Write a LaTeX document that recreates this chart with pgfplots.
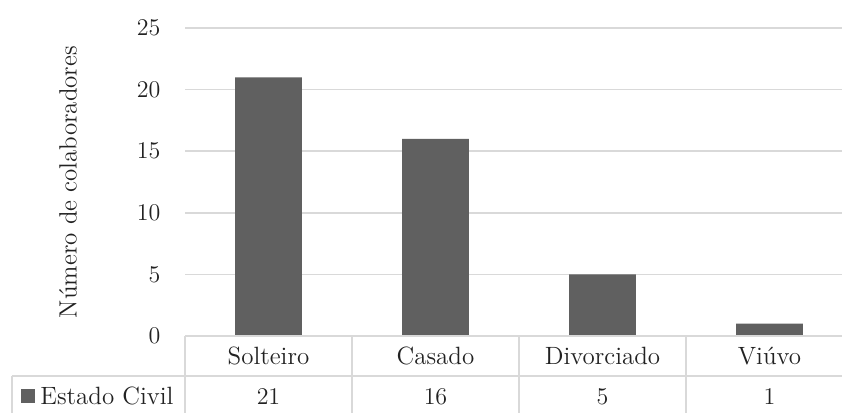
\documentclass[border=0pt]{standalone}
\usepackage{pgfplots}
\usepackage{pgfplotstable}
\pgfplotsset{compat=1.18}

\definecolor{barc}{RGB}{96,96,96}
\definecolor{gridc}{RGB}{217,217,217}
\definecolor{txtc}{RGB}{34,34,34}

% Estado civil dos colaboradores
\pgfplotstableread{
idx n
0 21
1 16
2 5
3 1
}\civil

\begin{document}
\fontsize{12.5}{15}\selectfont
\begin{tikzpicture}[font=\fontsize{12.5}{15}\selectfont]
\begin{axis}[
  scale only axis,
  width=334pt, height=154pt,
  xmin=-0.5, xmax=3.5,
  ymin=0, ymax=25,
  ytick={0,5,...,25},
  xtick=data,
  xticklabels={Solteiro,Casado,Divorciado,Viúvo},
  axis line style={draw=none},
  tick style={draw=none},
  ymajorgrids,
  grid style={gridc, line width=0.8pt},
  every tick label/.append style={font=\fontsize{12.5}{15}\selectfont, text=txtc},
  yticklabel style={xshift=-8pt},
  xticklabel style={anchor=center, yshift=-10pt, text height=8.5pt, text depth=0pt},
  every axis y label/.style={at={([xshift=-58.5pt]axis description cs:0,0.5)}, rotate=90, anchor=center, text=txtc, font=\fontsize{12.5}{15}\selectfont},
  ylabel={Número de colaboradores},
  clip=false,
]
\addplot[ybar, bar width=0.4, fill=barc, draw=none] table[x=idx, y=n] {\civil};
% values of the data table row
\addplot[draw=none, mark=none, point meta=explicit,
  nodes near coords,
  every node near coord/.append style={anchor=center, yshift=-30pt, text=txtc, text height=8.5pt, text depth=0pt, font=\fontsize{12.5}{15}\selectfont}]
  table[x=idx, y expr=0, meta=n] {\civil};

% data table frame
\draw[gridc, line width=0.8pt] (axis cs:-0.5,0) -- (axis cs:3.5,0);
\draw[gridc, line width=0.8pt] ([xshift=-86.5pt, yshift=-20pt]axis cs:-0.5,0) -- ([yshift=-20pt]axis cs:3.5,0);
\draw[gridc, line width=0.8pt] ([xshift=-86.5pt, yshift=-40pt]axis cs:-0.5,0) -- ([yshift=-40pt]axis cs:3.5,0);
\draw[gridc, line width=0.8pt] ([xshift=-86.5pt, yshift=-20pt]axis cs:-0.5,0) -- ([xshift=-86.5pt, yshift=-40pt]axis cs:-0.5,0);
\pgfplotsinvokeforeach{-0.5,0.5,1.5,2.5,3.5}{
  \draw[gridc, line width=0.8pt] (axis cs:#1,0) -- ([yshift=-40pt]axis cs:#1,0);
}
% series key in the data table
\fill[barc] ([xshift=-82pt, yshift=-33.5pt]axis cs:-0.5,0) rectangle ([xshift=-75pt, yshift=-26.5pt]axis cs:-0.5,0);
\node[anchor=west, text=txtc, inner sep=0pt, text height=8.5pt, text depth=0pt] at ([xshift=-72.5pt, yshift=-30pt]axis cs:-0.5,0) {Estado Civil};

\coordinate (bbA) at ([xshift=-92.5pt, yshift=-38pt]rel axis cs:0,0);
\coordinate (bbB) at ([xshift=-5.5pt, yshift=14pt]rel axis cs:1,1);
\end{axis}
\pgfresetboundingbox
\useasboundingbox (bbA) rectangle (bbB);
\end{tikzpicture}
\end{document}
